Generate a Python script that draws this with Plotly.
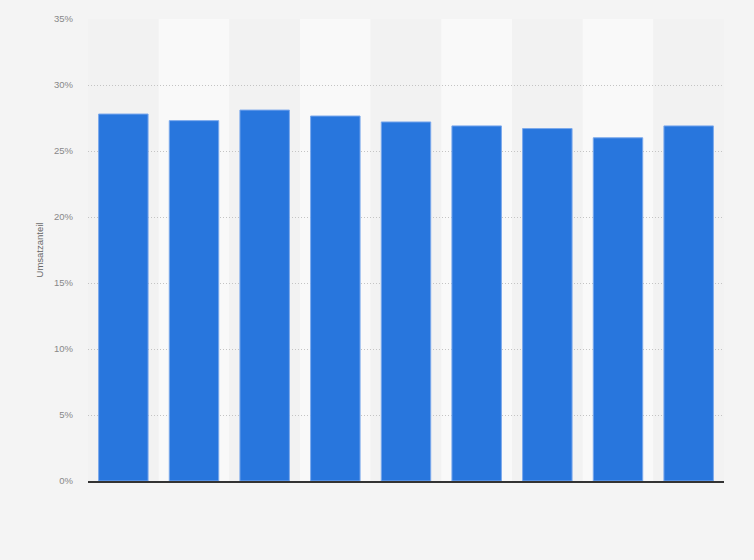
import plotly.graph_objects as go

# categories are not labelled in the source chart
kategorien = ["1", "2", "3", "4", "5", "6", "7", "8", "9"]
umsatzanteil = [27.8, 27.3, 28.1, 27.65, 27.2, 26.9, 26.7, 26.0, 26.9]
y_ticks = [0, 5, 10, 15, 20, 25, 30, 35]
y_tick_labels = ["0%", "5%", "10%", "15%", "20%", "25%", "30%", "35%"]

fig = go.Figure()
fig.add_trace(go.Bar(
    x=kategorien,
    y=umsatzanteil,
    marker=dict(color="#2876dd", line=dict(color="#7aa8ec", width=1)),
    hovertemplate="%{y:.1f}%<extra></extra>",
))

# alternating column bands behind the bars
for i in range(len(kategorien)):
    fig.add_shape(
        type="rect", xref="x", yref="y",
        x0=i - 0.5, x1=i + 0.5, y0=0, y1=35,
        fillcolor="#f9f9f9" if i % 2 else "#f2f2f2",
        line=dict(width=0), layer="below",
    )

fig.update_layout(
    width=754, height=560,
    margin=dict(l=88, r=30, t=19, b=79),
    paper_bgcolor="#f4f4f4",
    plot_bgcolor="#f4f4f4",
    bargap=0.3,
    showlegend=False,
    font=dict(family="Liberation Sans, Arial, sans-serif", color="#666666", size=9),
)
fig.update_xaxes(
    showticklabels=False, showgrid=False, ticks="",
    showline=True, linecolor="#333333", linewidth=1.5,
)
fig.update_yaxes(
    range=[0, 35], tickvals=y_ticks, ticktext=y_tick_labels,
    showgrid=True, gridcolor="#c4c4c4", griddash="1px,2px", gridwidth=1,
    zeroline=False, ticks="", ticklabelstandoff=14,
    title=dict(text="Umsatzanteil", font=dict(size=9.5, color="#666666"), standoff=8),
    tickfont=dict(size=9.5, color="#888888"),
)

# the page has a default body margin; drop it so the figure sits at 0,0
fig.write_html("out.html", config={"displayModeBar": False},
               post_script="document.body.style.margin='0';")
